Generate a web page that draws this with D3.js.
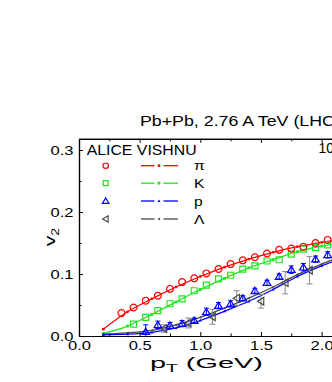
<!DOCTYPE html>
<html><head><meta charset="utf-8">
<script src="https://cdn.jsdelivr.net/npm/d3@7"></script>
<style>
body{margin:0;background:#fff}
svg{display:block}
text{font-family:"Liberation Sans",Arial,sans-serif;fill:#000}
</style>
</head><body>
<svg id="c" width="332" height="382"></svg>
<script>
// ---- data ----
const pionPt = [0.35,0.45,0.55,0.65,0.75,0.85,0.95,1.05,1.15,1.25,1.35,1.45,1.55,1.65,1.75,1.85,1.95,2.05];
const pionV2 = [0.037,0.046,0.057,0.065,0.076,0.087,0.093,0.101,0.108,0.116,0.122,0.127,0.133,0.139,0.141,0.144,0.150,0.155];
const kaonPt = [0.45,0.55,0.65,0.75,0.85,0.95,1.05,1.15,1.25,1.35,1.45,1.55,1.65,1.75,1.85,1.95,2.05];
const kaonV2 = [0.019,0.030,0.041,0.052,0.060,0.073,0.082,0.092,0.098,0.108,0.113,0.121,0.123,0.132,0.140,0.143,0.147];
const protonPt = [0.55,0.65,0.75,0.85,0.95,1.05,1.15,1.25,1.35,1.45,1.55,1.65,1.75,1.85,1.95,2.05];
const protonV2 = [0.007,0.018,0.017,0.020,0.025,0.039,0.049,0.052,0.061,0.073,0.086,0.096,0.107,0.111,0.124,0.131];
const protonErr = [0.011,0.006,0.005,0.005,0.004,0.006,0.005,0.005,0.004,0.004,0.004,0.004,0.006,0.006,0.005,0.005];
const lambdaPt = [0.7,0.9,1.1,1.3,1.5,1.7,1.9];
const lambdaV2 = [0.012,0.021,0.031,0.061,0.056,0.086,0.106];
const lambdaErr = [0.006,0.008,0.012,0.012,0.011,0.018,0.022];
const modelPt = [0.2,0.4,0.6,0.8,1.0,1.2,1.4,1.6,1.8,2.0,2.2];
const pionModel = [0.011,0.039,0.060,0.079,0.096,0.111,0.124,0.135,0.144,0.151,0.157];
const kaonModel = [0.004,0.016,0.035,0.055,0.075,0.093,0.110,0.123,0.136,0.145,0.151];
const protonModel = [0.002,0.003,0.006,0.013,0.025,0.040,0.056,0.075,0.096,0.113,0.128];
const lambdaModel = [0.003,0.005,0.009,0.018,0.030,0.045,0.061,0.079,0.099,0.116,0.131];
const xMajor = [0,0.5,1.0,1.5,2.0,2.5];
const xMinor = [0.25,0.75,1.25,1.75,2.25];
const yMajor = [0,0.1,0.2,0.3];
const yMinor = [0.05,0.15,0.25];
const legendLabels = ["\u03c0","K","p","\u039b"];
const titleText = "Pb+Pb, 2.76 A TeV (LHC)";
const centText = "10-20%";

// ---- layout ----
const svg = d3.select("#c");
svg.append("rect").attr("width",332).attr("height",382).attr("fill","#fff");
const L = 79, B = 336;
const x = d3.scaleLinear().domain([0,2.5]).range([L, L+2.5*121.3]);
const y = d3.scaleLinear().domain([0,0.318]).range([B, B-0.318*620]);
const T = y(0.318);

const RED="#ff0000", GREEN="#1ee61e", BLUE="#0000ff", GREY="#4a4a4a", EGREY="#8a8a8a";

svg.append("defs").append("clipPath").attr("id","clip")
  .append("rect").attr("x",L).attr("y",T).attr("width",x(2.5)-L).attr("height",B-T);
const plot = svg.append("g").attr("clip-path","url(#clip)");

function mk(type, s){
  const h=s/2;
  if(type==="circle") return `M${h},0A${h},${h} 0 1,1 ${-h},0A${h},${h} 0 1,1 ${h},0Z`;
  if(type==="square") return `M${-h},${-h}H${h}V${h}H${-h}Z`;
  if(type==="tri") return `M0,${-h*1.0}L${h*1.1},${h*0.8}L${-h*1.1},${h*0.8}Z`;
  if(type==="ltri") return `M${-h*1.0},0L${h*0.8},${-h*1.1}L${h*0.8},${h*1.1}Z`;
}

// model curves
const line = d3.line().x(d=>x(d[0])).y(d=>y(d[1])).curve(d3.curveMonotoneX);
const models = [
  {v:pionModel,c:RED,m:"circle"},
  {v:kaonModel,c:GREEN,m:"square"},
  {v:lambdaModel,c:GREY,m:"ltri"},
  {v:protonModel,c:BLUE,m:"tri"}
];
models.forEach(md=>{
  const pts = modelPt.map((p,i)=>[p,md.v[i]]);
  plot.append("path").attr("d",line(pts)).attr("fill","none").attr("stroke",md.c).attr("stroke-width",1.3);
  plot.selectAll(null).data(pts).enter().append("path")
    .attr("d",mk(md.m,2.8)).attr("transform",d=>`translate(${x(d[0])},${y(d[1])})`)
    .attr("fill",md.c).attr("stroke","none");
});

// error bars
function errBars(pt, v, e, col, cap){
  const g = plot.append("g").attr("stroke",col).attr("stroke-width",1);
  pt.forEach((p,i)=>{
    const cx=x(p), y1=y(v[i]-e[i]), y2=y(v[i]+e[i]);
    g.append("line").attr("x1",cx).attr("x2",cx).attr("y1",y1).attr("y2",y2);
    g.append("line").attr("x1",cx-cap).attr("x2",cx+cap).attr("y1",y1).attr("y2",y1);
    g.append("line").attr("x1",cx-cap).attr("x2",cx+cap).attr("y1",y2).attr("y2",y2);
  });
}
errBars(lambdaPt, lambdaV2, lambdaErr, EGREY, 3);
errBars(protonPt, protonV2, protonErr, BLUE, 2.5);

// data markers
function markers(pt, v, type, col, size){
  plot.selectAll(null).data(pt.map((p,i)=>[p,v[i]])).enter().append("path")
    .attr("d",mk(type,size)).attr("transform",d=>`translate(${x(d[0])},${y(d[1])})`)
    .attr("fill","none").attr("stroke",col).attr("stroke-width",1.2);
}
markers(lambdaPt, lambdaV2, "ltri", GREY, 7);
markers(protonPt, protonV2, "tri", BLUE, 7);
markers(kaonPt, kaonV2, "square", GREEN, 6);
markers(pionPt, pionV2, "circle", RED, 6.8);

// ---- axes ----
const fs = 13.5;
svg.append("g").attr("transform",`translate(0,${B})`)
  .call(d3.axisBottom(x).tickValues(xMajor).tickSizeInner(-4).tickSizeOuter(0).tickPadding(4.5).tickFormat(d3.format(".1f")));
svg.append("g").attr("transform",`translate(0,${B})`)
  .call(d3.axisBottom(x).tickValues(xMinor).tickSizeInner(-2.5).tickSizeOuter(0).tickFormat(""));
svg.append("g").attr("transform",`translate(0,${T})`)
  .call(d3.axisTop(x).tickValues(xMajor).tickSizeInner(-4).tickSizeOuter(0).tickFormat(""));
svg.append("g").attr("transform",`translate(0,${T})`)
  .call(d3.axisTop(x).tickValues(xMinor).tickSizeInner(-2.5).tickSizeOuter(0).tickFormat(""));
svg.append("g").attr("transform",`translate(${L},0)`)
  .call(d3.axisLeft(y).tickValues(yMajor).tickSizeInner(-4).tickSizeOuter(0).tickPadding(5.5).tickFormat(d3.format(".1f")));
svg.append("g").attr("transform",`translate(${L},0)`)
  .call(d3.axisLeft(y).tickValues(yMinor).tickSizeInner(-2.5).tickSizeOuter(0).tickFormat(""));
svg.selectAll(".domain").attr("stroke","#000").attr("stroke-width",1.2);
svg.selectAll(".tick line").attr("stroke","#000").attr("stroke-width",1);
svg.selectAll(".tick text").attr("font-size",fs).attr("font-family",'"Liberation Sans",Arial,sans-serif')
  .attr("fill","#000").attr("textLength",23).attr("lengthAdjust","spacingAndGlyphs");

function stretch(sel, target, ox){
  const w = sel.node().getBBox().width;
  const s = target / w;
  sel.attr("transform",`translate(${ox},0) scale(${s},1) translate(${-ox},0)`);
}

// title
const tt = svg.append("text").attr("x",140).attr("y",126.5).attr("font-size",14).text(titleText);
stretch(tt, 201, 140);
// centrality
const ct = svg.append("text").attr("x",318.5).attr("y",153).attr("font-size",14).text(centText);
stretch(ct, 48, 318.5);

// x label
const xl = svg.append("text").attr("x",150).attr("y",368).attr("font-size",15);
xl.append("tspan").text("p");
xl.append("tspan").attr("font-size",10).attr("dy",4).text("T");
xl.append("tspan").attr("dy",-4).text(" (GeV)");
stretch(xl, 113, 150);

// y label
const yl = svg.append("g").attr("transform","translate(55,237) rotate(-90)");
const ylt = yl.append("text").attr("x",0).attr("y",0).attr("text-anchor","middle").attr("font-size",15);
ylt.append("tspan").text("v");
ylt.append("tspan").attr("font-size",10).attr("dy",4).text("2");
ylt.attr("transform","scale(1.4,1)");

// legend
const hdr = svg.append("text").attr("x",86.7).attr("y",155.3).attr("font-size",14).text("ALICE VISHNU");
stretch(hdr, 110, 86.7);
const rowsY = [165.7,183.2,201,219];
const legItems = [
  {m:"circle",c:RED,size:5.4},
  {m:"square",c:GREEN,size:5},
  {m:"tri",c:BLUE,size:6},
  {m:"ltri",c:GREY,size:6}
];
legItems.forEach((it,i)=>{
  const ry = rowsY[i];
  svg.append("path").attr("d",mk(it.m,it.size)).attr("transform",`translate(105.7,${ry})`)
    .attr("fill","none").attr("stroke",it.c).attr("stroke-width",1.2);
  svg.append("line").attr("x1",141).attr("x2",154.5).attr("y1",ry).attr("y2",ry).attr("stroke",it.c).attr("stroke-width",1.3);
  svg.append("line").attr("x1",163.5).attr("x2",178).attr("y1",ry).attr("y2",ry).attr("stroke",it.c).attr("stroke-width",1.3);
  svg.append("path").attr("d",mk(it.m,2.8)).attr("transform",`translate(159,${ry})`).attr("fill",it.c);
  const serif = i<2;
  const lt = svg.append("text").attr("x",194).attr("y",ry+4.8).attr("font-size",13)
    .attr("font-family", serif? '"Liberation Serif","Times New Roman",serif' : '"Liberation Sans",Arial,sans-serif')
    .text(legendLabels[i]);
  lt.attr("transform",`translate(194,0) scale(1.2,1) translate(-194,0)`);
});
</script>
</body></html>
